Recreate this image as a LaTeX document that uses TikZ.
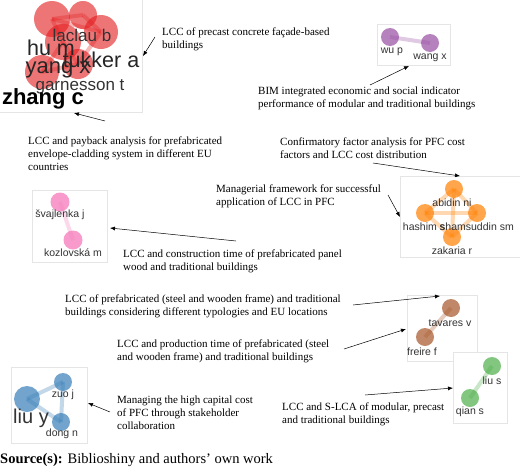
\documentclass[tikz,border=0pt]{standalone}
\usepackage{fontspec}
\setmainfont{Liberation Serif}
\newfontfamily\lblfont{Liberation Sans}
\usetikzlibrary{arrows.meta}

\definecolor{clred}{RGB}{228,26,28}
\definecolor{clpurple}{RGB}{152,78,163}
\definecolor{clorange}{RGB}{255,127,0}
\definecolor{clpink}{RGB}{247,129,191}
\definecolor{clbrown}{RGB}{166,86,40}
\definecolor{clgreen}{RGB}{77,175,74}
\definecolor{clblue}{RGB}{55,126,184}
\definecolor{lblgray}{RGB}{51,51,51}

\tikzset{
  panel/.style={draw=black!10, fill=white, line width=0.8pt},
  bub/.style={circle, inner sep=0pt, draw=none, fill=#1, fill opacity=0.7},
  link/.style={draw=#1, line width=4pt, draw opacity=0.3},
  lbl/.style={font=\lblfont\fontsize{10.5}{12}\selectfont, text=lblgray, inner sep=0pt},
  biglbl/.style={font=\lblfont\fontsize{#1}{#1}\selectfont, text=black!85, inner sep=0pt},
  note/.style={font=\fontsize{11}{13}\selectfont, align=left, anchor=base west, inner sep=0pt},
  arr/.style={-{Latex[length=5pt,width=4pt]}, line width=0.5pt},
}

\begin{document}
\begin{tikzpicture}[x=1pt,y=-1pt]
\useasboundingbox (0,0) rectangle (520,469);

\draw[panel] (-1,-1) rectangle (142,112);
\draw[panel] (377,24) rectangle (450,65);
\draw[panel] (400,176) rectangle (523,257);
\draw[panel] (32,190) rectangle (107,262);
\draw[panel] (407,295) rectangle (477,361);
\draw[panel] (453,352) rectangle (507,423);
\draw[panel] (11,367) rectangle (87,443);

% red cluster
\node[bub=clred, fill opacity=0.6, minimum size=36pt] (hu) at (52,19) {};
\node[bub=clred, fill opacity=0.6, minimum size=28pt] (laclau) at (83,15) {};
\node[bub=clred, fill opacity=0.6, minimum size=34pt] (tukker) at (101,32) {};
\node[bub=clred, fill opacity=0.6, minimum size=36pt] (yang) at (63,42) {};
\node[bub=clred, fill opacity=0.6, minimum size=30pt] (garnesson) at (78,64) {};
\node[bub=clred, fill opacity=0.6, minimum size=34pt] (zhang) at (42,72) {};
\foreach \a/\b in {hu/laclau,hu/tukker,hu/yang,laclau/tukker,yang/zhang,yang/garnesson,tukker/garnesson,zhang/garnesson}
  \draw[link=clred] (\a.center) -- (\b.center);
\node[biglbl=17, text=lblgray] (lbLaclau) at (82,35) {laclau b};
\node[biglbl=21.5] (lbHu) at (51,48) {hu m};
\node[biglbl=21.5] (lbTukker) at (101,60) {tukker a};
\node[biglbl=22] (lbYang) at (58,70) {yang x};
\node[biglbl=17, text=lblgray] (lbGarnesson) at (80,87) {garnesson t};
\node[biglbl=22, text=black] (lbZhang) at (43,99) {\bfseries zhang c};

% purple cluster
\node[bub=clpurple, minimum size=18pt] (wu) at (390,37) {};
\node[bub=clpurple, minimum size=18pt] (wang) at (430,43) {};
\draw[link=clpurple] (wu.center) -- (wang.center);
\node[lbl] (lbWu) at (392,52) {wu p};
\node[lbl] (lbWang) at (430,58) {wang x};

% orange cluster
\node[bub=clorange, minimum size=18pt] (abidin) at (454,189) {};
\node[bub=clorange, minimum size=18pt] (hashim) at (425,213) {};
\node[bub=clorange, minimum size=18pt] (shamsuddin) at (477,213) {};
\node[bub=clorange, minimum size=18pt] (zakaria) at (452,237) {};
\foreach \a/\b in {abidin/hashim,abidin/shamsuddin,abidin/zakaria,hashim/shamsuddin,hashim/zakaria,shamsuddin/zakaria}
  \draw[link=clorange] (\a.center) -- (\b.center);
\node[lbl] (lbAbidin) at (452,203) {abidin ni};
\node[lbl] (lbHashim) at (424,227) {hashim s};
\node[lbl] (lbShamsuddin) at (477,227) {shamsuddin sm};
\node[lbl] (lbZakaria) at (452,251) {zakaria r};

% pink cluster
\node[bub=clpink, fill opacity=0.8, minimum size=19pt] (svajlenka) at (60,202) {};
\node[bub=clpink, fill opacity=0.8, minimum size=19pt] (kozlovska) at (73,240) {};
\draw[link=clpink] (svajlenka.center) -- (kozlovska.center);
\node[lbl] (lbSvajlenka) at (60,215) {švajlenka j};
\node[lbl] (lbKozlovska) at (73,253) {kozlovská m};

% brown cluster
\node[bub=clbrown, minimum size=18pt] (tavares) at (451,308) {};
\node[bub=clbrown, minimum size=18pt] (freire) at (425,337) {};
\draw[link=clbrown] (tavares.center) -- (freire.center);
\node[lbl] (lbTavares) at (450,323) {tavares v};
\node[lbl] (lbFreire) at (422,352) {freire f};

% green cluster
\node[bub=clgreen, minimum size=18pt] (lius) at (492,366) {};
\node[bub=clgreen, minimum size=18pt] (qian) at (470,398) {};
\draw[link=clgreen] (lius.center) -- (qian.center);
\node[lbl] (lbLius) at (492,381) {liu s};
\node[lbl] (lbQian) at (470,412) {qian s};

% blue cluster
\node[bub=clblue, minimum size=26pt] (liuy) at (27,399) {};
\node[bub=clblue, minimum size=18pt] (zuo) at (63,382) {};
\node[bub=clblue, minimum size=18pt] (dong) at (61,422) {};
\foreach \a/\b in {liuy/zuo,liuy/dong,zuo/dong}
  \draw[link=clblue] (\a.center) -- (\b.center);
\node[biglbl=20, text=lblgray] (lbLiuy) at (31,418) {liu y};
\node[lbl] (lbZuo) at (63,395) {zuo j};
\node[lbl] (lbDong) at (62,434) {dong n};

% notes (base = last line)
\node[note] (ntPrecast) at (162,48) {LCC of precast concrete façade-based\\buildings};
\node[note] (ntBim) at (258,107) {BIM integrated economic and social indicator\\performance of modular and traditional buildings};
\node[note] (ntPayback) at (28,170) {LCC and payback analysis for prefabricated\\envelope-cladding system in different EU\\countries};
\node[note] (ntFactor) at (280,158) {Confirmatory factor analysis for PFC cost\\factors and LCC cost distribution};
\node[note] (ntFramework) at (216,205) {Managerial framework for successful\\application of LCC in PFC};
\node[note] (ntPanel) at (123,270) {LCC and construction time of prefabricated panel\\wood and traditional buildings};
\node[note] (ntSteel) at (65,315) {LCC of prefabricated (steel and wooden frame) and traditional\\buildings considering different typologies and EU locations};
\node[note] (ntProduction) at (117,360) {LCC and production time of prefabricated (steel\\and wooden frame) and traditional buildings};
\node[note] (ntCapital) at (117,429) {Managing the high capital cost\\of PFC through stakeholder\\collaboration};
\node[note] (ntSlca) at (282,423) {LCC and S-LCA of modular, precast\\and traditional buildings};
\node[anchor=base west, inner sep=0pt, font=\fontsize{14.5}{16}\selectfont] (ntSource) at (0,463) {\textbf{Source(s):} Biblioshiny and authors’ own work};

% arrows
\coordinate (tPrecast) at (155,37);      \coordinate (hPrecast) at (143,56);
\coordinate (tBim) at (370,85);          \coordinate (hBim) at (409,66);
\coordinate (tPayback) at (105,121);     \coordinate (hPayback) at (74,113);
\coordinate (tFactor) at (373,163);      \coordinate (hFactor) at (460,176);
\coordinate (tFramework) at (388,195);   \coordinate (hFramework) at (400,217);
\coordinate (tPanel) at (236,241);       \coordinate (hPanel) at (110,228);
\coordinate (tSteel) at (353,305);       \coordinate (hSteel) at (440,296);
\coordinate (tProduction) at (344,349);  \coordinate (hProduction) at (406,329);
\coordinate (tSlca) at (365,395);        \coordinate (hSlca) at (453,388);
\coordinate (tCapital) at (110,412);     \coordinate (hCapital) at (88,403);
\foreach \n in {Precast,Bim,Payback,Factor,Framework,Panel,Steel,Production,Slca,Capital}
  \draw[arr] (t\n) -- (h\n);
\end{tikzpicture}
\end{document}
